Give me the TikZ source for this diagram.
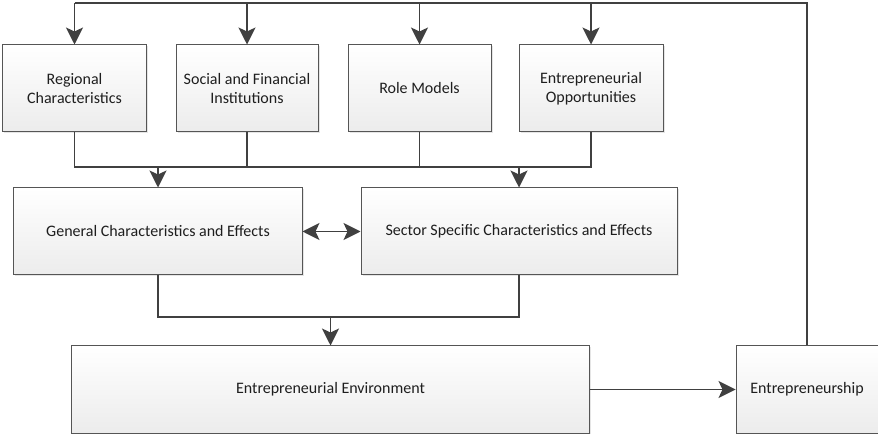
\documentclass[tikz,border=0pt]{standalone}
\usepackage{fontspec}
\setmainfont{Carlito}
\usetikzlibrary{arrows.meta,shadows}
\definecolor{linec}{HTML}{404040}
\definecolor{boxline}{HTML}{555555}
\definecolor{boxlow}{HTML}{ECECEC}
\definecolor{txt}{HTML}{1E1E1E}
\begin{document}
\begin{tikzpicture}[x=1bp,y=-1bp,
  box/.style={draw=boxline, line width=1bp, top color=white, bottom color=boxlow,
    drop shadow={shadow xshift=1.5bp, shadow yshift=-1.5bp, fill=black, opacity=0.10},
    minimum height=87bp, align=center, text=txt, inner sep=2bp,
    font=\fontsize{16bp}{19bp}\selectfont},
  conn/.style={draw=linec, line width=1.2bp},
  arr/.style={conn, -{Stealth[length=17bp,width=17bp,inset=4bp]}},
  darr/.style={conn, {Stealth[length=17bp,width=17bp,inset=4bp]}-{Stealth[length=17bp,width=17bp,inset=4bp]}}]
\useasboundingbox (0,0) rectangle (878,434);

% first row: the four factor boxes
\node[box, minimum width=144bp] (reg) at (74.5,88.5) {Regional\\Characteristics};
\node[box, minimum width=142bp] (soc) at (247,88.5) {Social and Financial\\Institutions};
\node[box, minimum width=143bp] (role) at (419.5,88.5) {Role Models};
\node[box, minimum width=144bp] (opp) at (591,88.5) {Entrepreneurial\\Opportunities};

% second row: characteristics and effects
\node[box, minimum width=288bp] (gen) at (158,231.5) {General Characteristics and Effects};
\node[box, minimum width=316bp] (sec) at (519,231.5) {Sector Specific Characteristics and Effects};

% third row
\node[box, minimum width=517bp] (env) at (330.5,389.5) {Entrepreneurial Environment};
\node[box, minimum width=142bp] (ent) at (807,389.5) {Entrepreneurship};

% feedback loop from entrepreneurship to the factor boxes
\coordinate (topR) at (807,3);
\draw[conn] (ent.north) -- (topR) -- (reg.north |- topR);
\draw[arr] (reg.north |- topR) -- (reg.north);
\draw[arr] (soc.north |- topR) -- (soc.north);
\draw[arr] (role.north |- topR) -- (role.north);
\draw[arr] (opp.north |- topR) -- (opp.north);

% factors merge into the second row
\coordinate (m1) at (0,167);
\draw[conn] (reg.south) -- (reg.south |- m1) -- (opp.south |- m1) -- (opp.south);
\draw[conn] (soc.south) -- (soc.south |- m1);
\draw[conn] (role.south) -- (role.south |- m1);
\draw[arr] (gen.north |- m1) -- (gen.north);
\draw[arr] (sec.north |- m1) -- (sec.north);

% mutual influence
\draw[darr] (gen.east) -- (sec.west);

% second row merges into the environment
\coordinate (m2) at (0,317);
\draw[conn] (gen.south) -- (gen.south |- m2) -- (sec.south |- m2) -- (sec.south);
\draw[arr] (env.north |- m2) -- (env.north);

% environment drives entrepreneurship
\draw[arr] (env.east) -- (ent.west);
\end{tikzpicture}
\end{document}
